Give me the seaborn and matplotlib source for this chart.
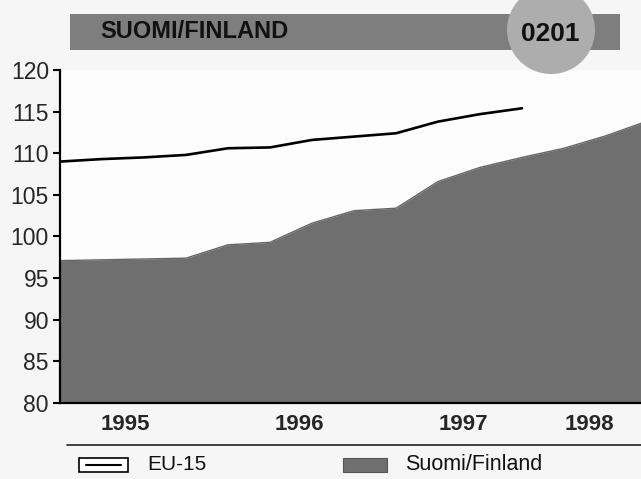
import matplotlib
matplotlib.use("Agg")
import matplotlib.pyplot as plt
import matplotlib.patches as mpatches
import matplotlib.lines as mlines
import seaborn as sns
import pandas as pd

# quarterly index, 1995 Q1 = 0
eu_quarter = list(range(12))
eu_values = [109.0, 109.3, 109.5, 109.8, 110.6, 110.7, 111.6, 112.0, 112.4, 113.8, 114.7, 115.4]

fin_quarter = list(range(15))
fin_values = [97.1, 97.2, 97.3, 97.4, 99.0, 99.3, 101.6, 103.1, 103.4, 106.6, 108.3, 109.5, 110.6, 112.1, 113.9]

year_labels = ["1995", "1996", "1997", "1998"]
year_label_pos = [1.55, 5.7, 9.6, 12.6]
year_ticks = [4, 8, 12]
y_ticks = [80, 85, 90, 95, 100, 105, 110, 115, 120]

sns.set_style("white")
plt.rcParams["font.family"] = ["Liberation Sans", "DejaVu Sans"]

W, H = 641, 479
fig = plt.figure(figsize=(W / 100, H / 100), dpi=100)
fig.patch.set_facecolor("#f6f6f6")


def fx(px):
    return px / W


def fy(py):
    return (H - py) / H


ax = fig.add_axes([fx(60), fy(403), fx(641) - fx(60), fy(70) - fy(403)])
ax.set_facecolor("#fdfdfd")

eu = pd.DataFrame({"q": eu_quarter, "v": eu_values})
fin = pd.DataFrame({"q": fin_quarter, "v": fin_values})

ax.fill_between(fin["q"], 80, fin["v"], color="#6f6f6f", linewidth=0, zorder=1)
sns.lineplot(data=fin, x="q", y="v", ax=ax, color="#666666", linewidth=1.0, zorder=2)
sns.lineplot(data=eu, x="q", y="v", ax=ax, color="black", linewidth=1.9, zorder=3)

ax.set_xlim(0, 581 / 42)
ax.set_ylim(80, 120)
ax.set_xlabel("")
ax.set_ylabel("")

ax.set_yticks(y_ticks)
ax.set_yticklabels([str(t) for t in y_ticks], fontsize=16.5)
ax.tick_params(axis="y", direction="out", length=5, width=1.5, pad=3, color="black", left=True)

ax.set_xticks(year_ticks)
ax.set_xticklabels([])
ax.tick_params(axis="x", which="major", direction="in", length=4, width=1.2, color="#222222", bottom=True)
ax.set_xticks(year_label_pos, minor=True)
ax.set_xticklabels(year_labels, minor=True, fontsize=16, fontweight="bold")
ax.tick_params(axis="x", which="minor", length=0, pad=8)

for side in ["top", "right"]:
    ax.spines[side].set_visible(False)
for side in ["left", "bottom"]:
    ax.spines[side].set_color("black")
    ax.spines[side].set_linewidth(1.6)

# header bar and badge
fig.add_artist(mpatches.Rectangle((fx(70), fy(50)), fx(620) - fx(70), fy(14) - fy(50),
                                  transform=fig.transFigure, facecolor="#7e7e7e",
                                  edgecolor="none", zorder=1))
fig.add_artist(mpatches.Ellipse((fx(551), fy(30)), 88 / W, 88 / H,
                                transform=fig.transFigure, facecolor="#adadad",
                                edgecolor="none", zorder=2))
fig.text(fx(100), fy(32), "SUOMI/FINLAND", fontsize=17, fontweight="bold",
         color="#111111", ha="left", va="center", zorder=3)
fig.text(fx(550), fy(34), "0201", fontsize=19, fontweight="bold",
         color="#111111", ha="center", va="center", zorder=3)

# legend strip
fig.add_artist(mlines.Line2D([fx(67), fx(641)], [fy(445), fy(445)],
                             transform=fig.transFigure, color="#222222", linewidth=1.2))
fig.add_artist(mpatches.Rectangle((fx(79), fy(472)), fx(128) - fx(79), fy(458) - fy(472),
                                  transform=fig.transFigure, facecolor="white",
                                  edgecolor="black", linewidth=1.2))
fig.add_artist(mlines.Line2D([fx(86), fx(121)], [fy(465), fy(465)],
                             transform=fig.transFigure, color="black", linewidth=1.5))
fig.text(fx(147), fy(465), "EU-15", fontsize=15, ha="left", va="center", color="#111111")
fig.add_artist(mpatches.Rectangle((fx(343), fy(472)), fx(387) - fx(343), fy(458) - fy(472),
                                  transform=fig.transFigure, facecolor="#6f6f6f",
                                  edgecolor="#555555", linewidth=0.8))
fig.text(fx(405), fy(465), "Suomi/Finland", fontsize=15.5, ha="left", va="center", color="#111111")

fig.savefig("out.png", dpi=100, facecolor=fig.get_facecolor())
plt.close(fig)
